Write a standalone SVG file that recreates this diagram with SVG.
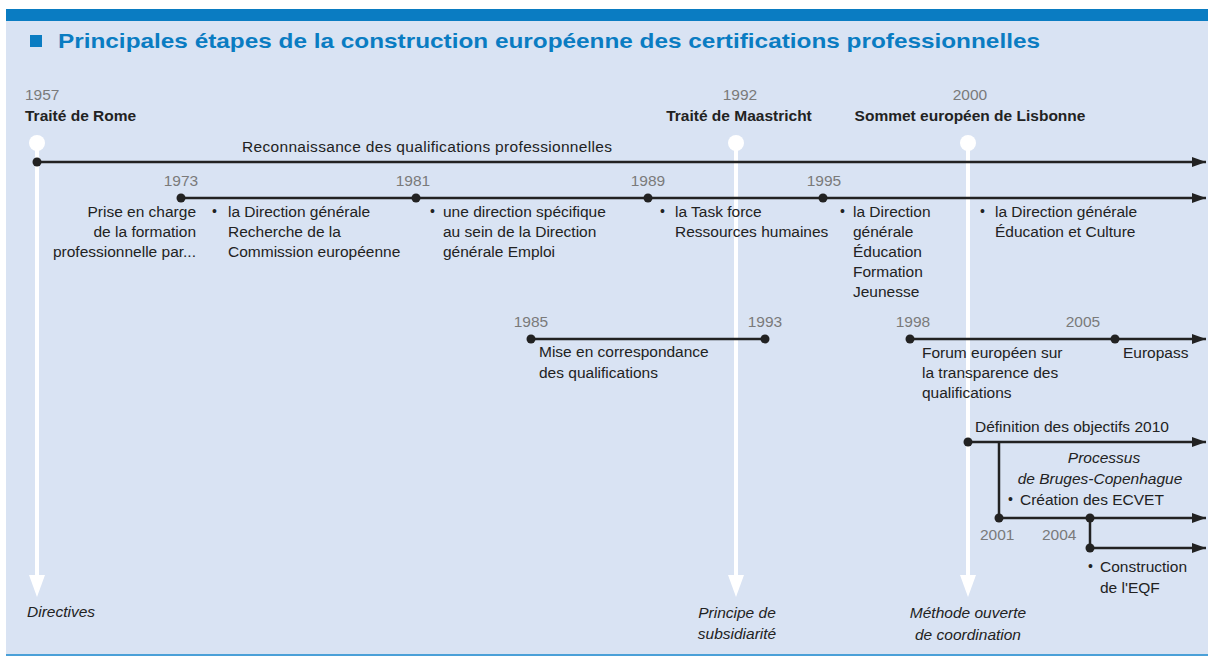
<svg xmlns="http://www.w3.org/2000/svg" width="1214" height="657" viewBox="0 0 1214 657">
<defs>
<style>
.t{font-family:"Liberation Sans",Arial,sans-serif;font-size:15.5px;fill:#222}
.b{font-weight:bold}
.y{fill:#7a7a7a}
.i{font-style:italic}
.m{text-anchor:middle}
.e{text-anchor:end}
.bu{font-size:14px}
.ln{stroke:#222;stroke-width:2.5;fill:none}
.wl{stroke:#fff;stroke-width:4;fill:none}
.wa{fill:#fff}
.dot{fill:#222}
.ttl{font-family:"Liberation Sans",Arial,sans-serif;font-size:21px;font-weight:bold;fill:#0a7cc2}
</style>
<marker id="ah" viewBox="0 0 14 10" refX="14" refY="5" markerWidth="14" markerHeight="10" markerUnits="userSpaceOnUse" orient="auto"><path d="M0,0 L14,5 L0,10 z" fill="#222"/></marker>
</defs>
<rect x="0" y="0" width="1214" height="657" fill="#fff"/>
<rect x="6" y="20" width="1202" height="636" fill="#d9e3f3"/>
<rect x="6" y="9" width="1202" height="12" fill="#0a7cc2"/>
<line x1="6" y1="655" x2="1208" y2="655" stroke="#4aa0d8" stroke-width="2"/>

<g id="title">
<rect x="30" y="35" width="12" height="12" fill="#0a7cc2"/>
<text class="ttl" x="58" y="48" textLength="982" lengthAdjust="spacingAndGlyphs">Principales étapes de la construction européenne des certifications professionnelles</text>
</g>

<g id="axes">
<line class="wl" x1="37" y1="143" x2="37" y2="577"/>
<circle class="wa" cx="37" cy="143" r="8"/>
<polygon class="wa" points="29,575 45,575 37,597"/>
<line class="wl" x1="736" y1="143" x2="736" y2="577"/>
<circle class="wa" cx="736" cy="143" r="8"/>
<polygon class="wa" points="728,575 744,575 736,597"/>
<line class="wl" x1="968" y1="143" x2="968" y2="577"/>
<circle class="wa" cx="968" cy="143" r="8"/>
<polygon class="wa" points="960,575 976,575 968,597"/>
</g>

<g id="connectors">
<path class="ln" d="M37,162 H1206" marker-end="url(#ah)"/>
<path class="ln" d="M181,198 H1206" marker-end="url(#ah)"/>
<path class="ln" d="M531,339 H765"/>
<path class="ln" d="M910,339 H1206" marker-end="url(#ah)"/>
<path class="ln" d="M968,442 H1206" marker-end="url(#ah)"/>
<path class="ln" d="M999,442 V518"/>
<path class="ln" d="M999,518 H1206" marker-end="url(#ah)"/>
<path class="ln" d="M1090,518 V548"/>
<path class="ln" d="M1090,548 H1206" marker-end="url(#ah)"/>
<circle class="dot" cx="37" cy="162" r="4.5"/>
<circle class="dot" cx="181" cy="198" r="4.5"/>
<circle class="dot" cx="416" cy="198" r="4.5"/>
<circle class="dot" cx="648" cy="198" r="4.5"/>
<circle class="dot" cx="823" cy="198" r="4.5"/>
<circle class="dot" cx="531" cy="339" r="4.5"/>
<circle class="dot" cx="765" cy="339" r="4.5"/>
<circle class="dot" cx="910" cy="339" r="4.5"/>
<circle class="dot" cx="1115" cy="339" r="4.5"/>
<circle class="dot" cx="968" cy="442" r="4.5"/>
<circle class="dot" cx="999" cy="518" r="4.5"/>
<circle class="dot" cx="1090" cy="518" r="4.5"/>
<circle class="dot" cx="1090" cy="548" r="4.5"/>
</g>

<g id="n-rome">
<text class="t y" x="25" y="100">1957</text>
<text class="t b" x="25" y="121">Traité de Rome</text>
</g>
<g id="n-maastricht">
<text class="t y m" x="740" y="100">1992</text>
<text class="t b m" x="739" y="121">Traité de Maastricht</text>
</g>
<g id="n-lisbonne">
<text class="t y m" x="970" y="100">2000</text>
<text class="t b m" x="970" y="121">Sommet européen de Lisbonne</text>
</g>
<g id="n-reconnaissance">
<text class="t m" x="427" y="152" textLength="370" lengthAdjust="spacing">Reconnaissance des qualifications professionnelles</text>
</g>
<g id="n-1973">
<text class="t y m" x="181" y="186">1973</text>
<text class="t e" x="196" y="217">Prise en charge</text>
<text class="t e" x="196" y="237">de la formation</text>
<text class="t e" x="196" y="257">professionnelle par...</text>
<text class="t bu" x="212" y="216">•</text>
<text class="t" x="228" y="217">la Direction générale</text>
<text class="t" x="228" y="237">Recherche de la</text>
<text class="t" x="228" y="257">Commission européenne</text>
</g>
<g id="n-1981">
<text class="t y m" x="413" y="186">1981</text>
<text class="t bu" x="430" y="216">•</text>
<text class="t" x="443" y="217">une direction spécifique</text>
<text class="t" x="443" y="237">au sein de la Direction</text>
<text class="t" x="443" y="257">générale Emploi</text>
</g>
<g id="n-1989">
<text class="t y m" x="648" y="186">1989</text>
<text class="t bu" x="660" y="216">•</text>
<text class="t" x="675" y="217">la Task force</text>
<text class="t" x="675" y="237">Ressources humaines</text>
</g>
<g id="n-1995">
<text class="t y m" x="824" y="186">1995</text>
<text class="t bu" x="840" y="216">•</text>
<text class="t" x="853" y="217">la Direction</text>
<text class="t" x="853" y="237">générale</text>
<text class="t" x="853" y="257">Éducation</text>
<text class="t" x="853" y="277">Formation</text>
<text class="t" x="853" y="297">Jeunesse</text>
</g>
<g id="n-2000dg">
<text class="t bu" x="980" y="216">•</text>
<text class="t" x="995" y="217">la Direction générale</text>
<text class="t" x="995" y="237">Éducation et Culture</text>
</g>
<g id="n-1985">
<text class="t y m" x="531" y="327">1985</text>
<text class="t y m" x="765" y="327">1993</text>
<text class="t" x="539" y="357">Mise en correspondance</text>
<text class="t" x="539" y="378">des qualifications</text>
</g>
<g id="n-1998">
<text class="t y m" x="913" y="327">1998</text>
<text class="t" x="922" y="358">Forum européen sur</text>
<text class="t" x="922" y="378">la transparence des</text>
<text class="t" x="922" y="398">qualifications</text>
</g>
<g id="n-2005">
<text class="t y m" x="1083" y="327">2005</text>
<text class="t" x="1123" y="358">Europass</text>
</g>
<g id="n-objectifs">
<text class="t" x="975" y="432">Définition des objectifs 2010</text>
</g>
<g id="n-bruges">
<text class="t i m" x="1104" y="463">Processus</text>
<text class="t i m" x="1100" y="484">de Bruges-Copenhague</text>
<text class="t bu" x="1008" y="504">•</text>
<text class="t" x="1020" y="505">Création des ECVET</text>
<text class="t y" x="980" y="540">2001</text>
</g>
<g id="n-eqf">
<text class="t y" x="1042" y="540">2004</text>
<text class="t bu" x="1088" y="571">•</text>
<text class="t" x="1100" y="572">Construction</text>
<text class="t" x="1100" y="593">de l'EQF</text>
</g>
<g id="n-directives">
<text class="t i" x="27" y="617">Directives</text>
</g>
<g id="n-subsidiarite">
<text class="t i m" x="737" y="618">Principe de</text>
<text class="t i m" x="737" y="639">subsidiarité</text>
</g>
<g id="n-coordination">
<text class="t i m" x="968" y="618">Méthode ouverte</text>
<text class="t i m" x="968" y="640">de coordination</text>
</g>
</svg>
